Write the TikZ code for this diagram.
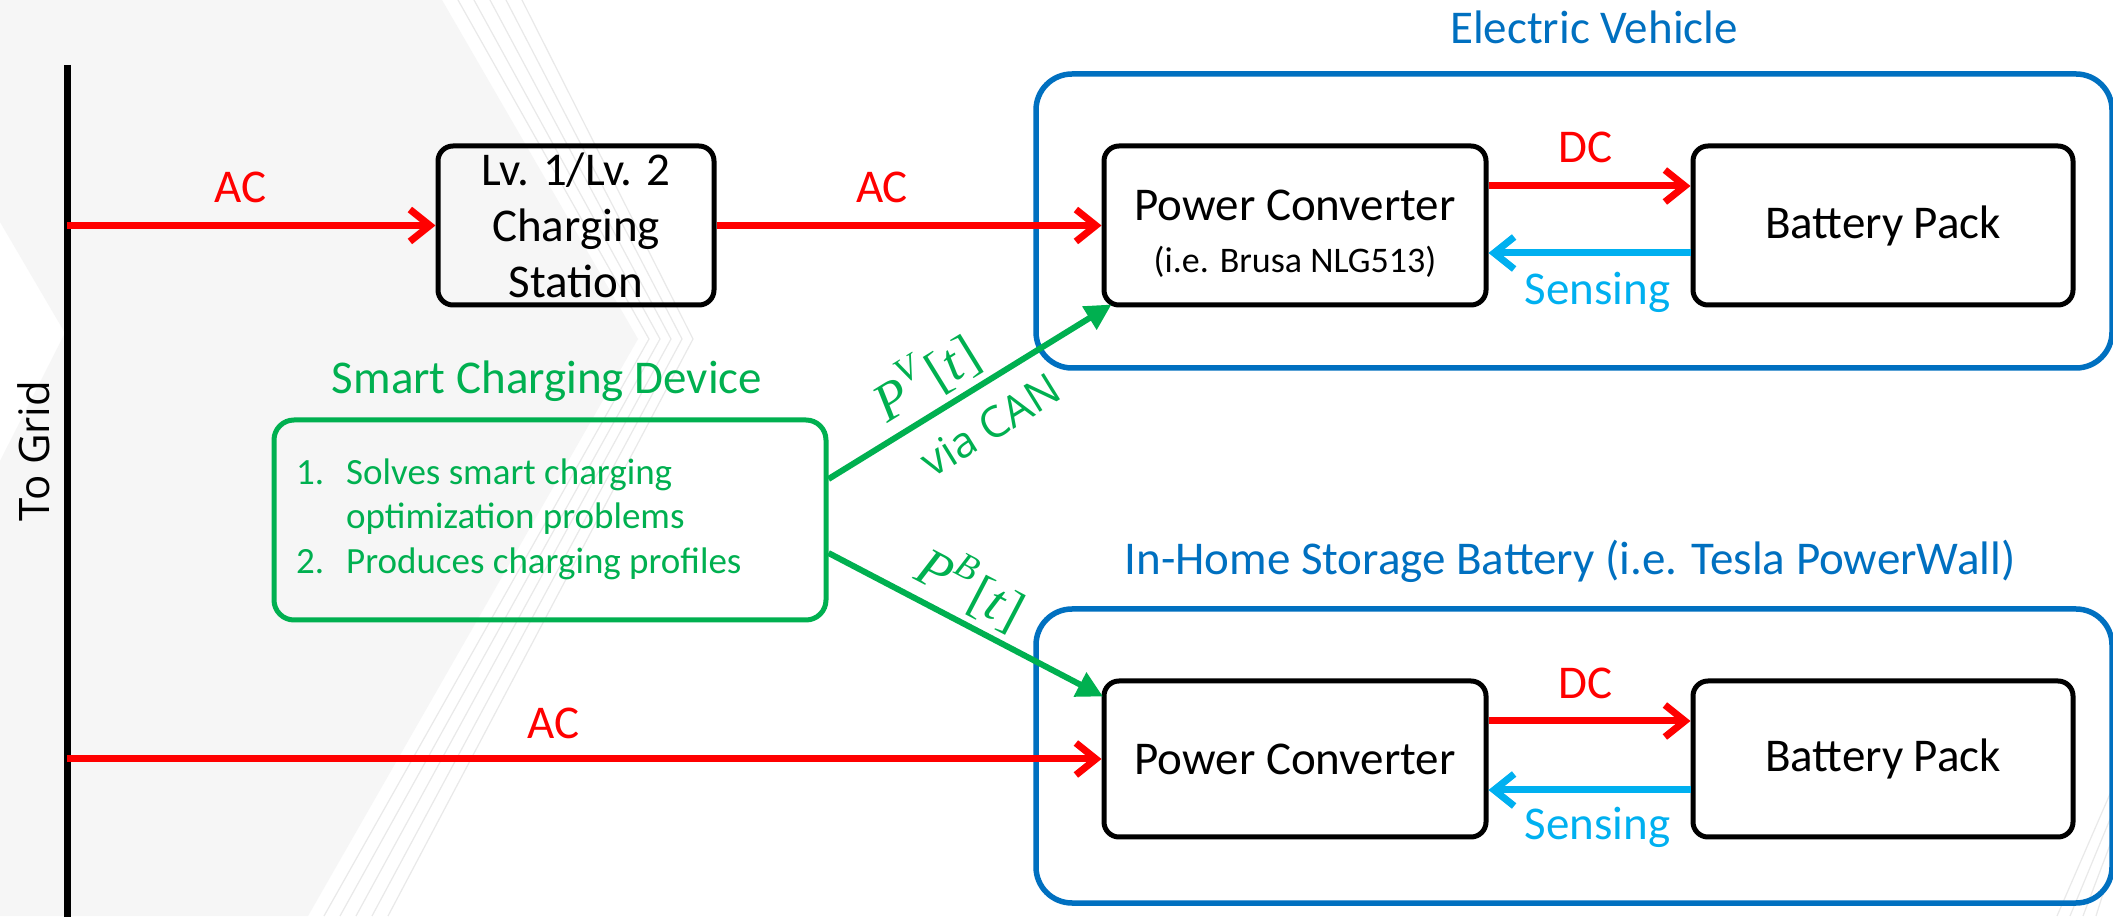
\documentclass[tikz,border=0pt]{standalone}
\usepackage{fontspec}
\setmainfont{Carlito}
\newfontfamily\osans{Open Sans}
\newfontfamily\mserif{Liberation Serif}
\usetikzlibrary{arrows.meta,calc}
\definecolor{myred}{HTML}{FF0000}
\definecolor{mygreen}{HTML}{00B050}
\definecolor{myblue}{HTML}{0070C0}
\definecolor{mycyan}{HTML}{00B0F0}
\definecolor{bggray}{HTML}{F6F6F6}
\definecolor{stripe}{HTML}{E9E9E9}
\newcommand{\pvar}[1]{{\mserif\itshape P\raisebox{0.45em}{\fontsize{36}{36}\selectfont #1}\kern5pt\upshape[\itshape t\kern2pt\upshape]}}
\begin{document}
\begin{tikzpicture}[x=1pt,y=1pt,
  txt/.style={font=\fontsize{47}{56}\selectfont, inner sep=0pt},
  blk/.style={draw=black, line width=5pt, rounded corners=15pt, inner sep=0pt, align=center, font=\fontsize{47}{56}\selectfont},
  bluebox/.style={draw=myblue, line width=5.5pt, rounded corners=36pt, inner sep=0pt},
  greenbox/.style={draw=mygreen, line width=5pt, rounded corners=20pt, inner sep=0pt},
  redarrow/.style={draw=myred, line width=7pt, -{Straight Barb[length=20pt,width=32pt]}},
  cyanarrow/.style={draw=mycyan, line width=7pt, -{Straight Barb[length=20pt,width=32pt]}},
  greenarrow/.style={draw=mygreen, line width=6pt, -{Triangle[length=26pt,width=26pt]}},
  redlbl/.style={txt, text=myred},
  cyanlbl/.style={txt, text=mycyan},
  mathlbl/.style={inner sep=0pt, text=mygreen, font=\fontsize{54}{54}\selectfont, sloped},
  canlbl/.style={inner sep=0pt, text=mygreen, font=\osans\fontsize{43}{43}\selectfont, sloped},
  stripeline/.style={draw=stripe, line width=1.2pt}
]
\useasboundingbox (0,0) rectangle (2113,916);
\fill[white] (0,0) rectangle (2113,916);
% background chevron
\fill[bggray] (0,916) -- (442,916) -- (638,577) -- (308,0) -- (0,0) -- (0,455) -- (65,583) -- (0,694) -- cycle;
\foreach \k in {1,...,5}{
  \draw[stripeline] (442+16*\k,916) -- (638+11*\k,577) -- (308+16*\k,0);
}
\foreach \k in {0,...,3}{
  \draw[stripeline] (2113,129-25*\k) -- (2057+13*\k,0);
}

% grid line
\coordinate (gtop) at (67,851);
\coordinate (gbot) at (67,-5);
\draw[line width=7pt] (gtop) -- (gbot);
\node[rotate=90, font=\osans\fontsize{42}{42}\selectfont, inner sep=0pt] (togrid) at (34,465) {To Grid};

% charging station
\node[blk, minimum width=276pt, minimum height=159pt] (lv) at (576,690.5) {Lv. 1/Lv. 2\\Charging\\Station};

% electric vehicle
\node[bluebox, minimum width=1076pt, minimum height=294pt] (ev) at (1574,695) {};
\node[txt, text=myblue] (evt) at (1594,889) {Electric Vehicle};
\node[blk, minimum width=382pt, minimum height=159pt] (pc1) at (1295,690.5) {\rule{0pt}{48pt}Power Converter\\[-4pt]{\fontsize{36}{44}\selectfont (i.e. Brusa NLG513)}};
\node[blk, minimum width=380pt, minimum height=159pt] (bp1) at (1883,690.5) {Battery Pack};

% home battery
\node[bluebox, minimum width=1076pt, minimum height=294pt] (hb) at (1574,160) {};
\node[txt, text=myblue] (hbt) at (1570,355) {In-Home Storage Battery (i.e. Tesla PowerWall)};
\node[blk, minimum width=382pt, minimum height=156pt] (pc2) at (1295,157) {Power Converter};
\node[blk, minimum width=380pt, minimum height=156pt] (bp2) at (1883,157) {Battery Pack};

% smart charging device
\node[txt, text=mygreen] (scdt) at (547,535) {Smart Charging Device};
\node[greenbox, minimum width=552pt, minimum height=200pt] (scd) at (550,396) {};
\node[anchor=west, inner sep=0pt, text=mygreen, font=\fontsize{37}{44.5}\selectfont] (scdlist) at (296,396)
  {\begin{tabular}{@{}l@{}l@{}}\makebox[50pt][l]{1.} & Solves smart charging\\ & optimization problems\\ \makebox[50pt][l]{2.} & Produces charging profiles\end{tabular}};

% AC connections
\draw[redarrow] (gtop |- lv.west) -- node[redlbl, pos=0.47, yshift=38pt]{AC} (lv.west);
\draw[redarrow] (lv.east) -- node[redlbl, pos=0.43, yshift=38pt]{AC} (pc1.west);
\draw[redarrow] (gtop |- pc2.west) -- node[redlbl, pos=0.47, yshift=36pt]{AC} (pc2.west);

% DC / sensing (EV)
\draw[redarrow] ($(pc1.east)+(0,39.5)$) -- node[redlbl, pos=0.48, yshift=39pt]{DC} ($(bp1.west)+(0,39.5)$);
\draw[cyanarrow] ($(bp1.west)+(0,-27.5)$) -- node[cyanlbl, pos=0.46, yshift=-39pt]{Sensing} ($(pc1.east)+(0,-27.5)$);

% DC / sensing (home)
\draw[redarrow] ($(pc2.east)+(0,38)$) -- node[redlbl, pos=0.48, yshift=38pt]{DC} ($(bp2.west)+(0,38)$);
\draw[cyanarrow] ($(bp2.west)+(0,-31)$) -- node[cyanlbl, pos=0.46, yshift=-37pt]{Sensing} ($(pc2.east)+(0,-31)$);

% control signals
\draw[greenarrow] ($(scd.east)+(0,41)$) --
  node[mathlbl, pos=0.41, above=6pt]{\pvar{V}}
  node[canlbl, pos=0.50, below=20pt]{via CAN}
  ($(pc1.south west)+(10,3)$);
\draw[greenarrow] ($(scd.east)+(0,-33)$) --
  node[mathlbl, pos=0.46, above=6pt]{\pvar{B}}
  ($(pc2.north west)+(1.5,-18)$);
\end{tikzpicture}
\end{document}
